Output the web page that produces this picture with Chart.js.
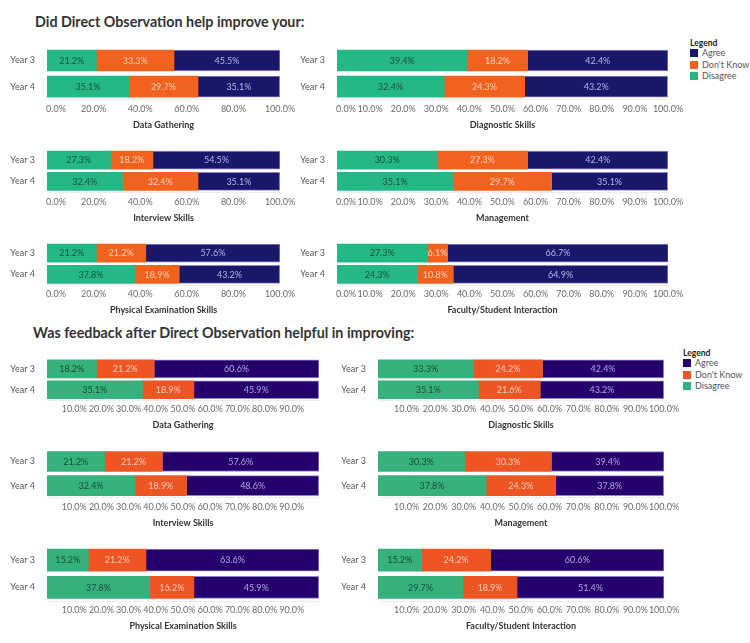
<!DOCTYPE html>
<html>
<head>
<meta charset="utf-8">
<script src="https://cdn.jsdelivr.net/npm/chart.js@4.4.1/dist/chart.umd.min.js"></script>
<style>
  body { margin: 0; background: #fff; }
  #page { position: relative; width: 750px; height: 643px; overflow: hidden; font-family: Lato, sans-serif; }
  #page canvas { position: absolute; }
  .title { position: absolute; font-size: 14.3px; font-weight: bold; color: #333; white-space: nowrap; line-height: 20px; }
  .legend { position: absolute; font-size: 9px; color: #555; line-height: 11.5px; white-space: nowrap; }
  .legend b { display: block; color: #222; font-size: 8.5px; line-height: 8px; }
  .legend span { display: inline-block; width: 8px; height: 8px; margin-right: 4px; vertical-align: -1px; }
</style>
</head>
<body>
<div id="page">
  <div class="title" style="left:35px; top:12px;">Did Direct Observation help improve your:</div>
  <div class="title" style="left:33px; top:323px;">Was feedback after Direct Observation helpful in improving:</div>
  <div class="legend" id="legendTop" style="left:690px; top:39px;"></div>
  <div class="legend" id="legendBottom" style="left:683px; top:349px;"></div>
</div>
<script>
const years = ['Year 3', 'Year 4'];
const responses = ['Disagree', "Don't Know", 'Agree'];
const legendOrder = ['Agree', "Don't Know", 'Disagree'];
const skills = ['Data Gathering', 'Diagnostic Skills', 'Interview Skills', 'Management', 'Physical Examination Skills', 'Faculty/Student Interaction'];

// "Did Direct Observation help improve your:" - [Year 3, Year 4] per skill
const helpDisagree = [[21.2, 35.1], [39.4, 32.4], [27.3, 32.4], [30.3, 35.1], [21.2, 37.8], [27.3, 24.3]];
const helpDontKnow = [[33.3, 29.7], [18.2, 24.3], [18.2, 32.4], [27.3, 29.7], [21.2, 18.9], [6.1, 10.8]];
const helpAgree = [[45.5, 35.1], [42.4, 43.2], [54.5, 35.1], [42.4, 35.1], [57.6, 43.2], [66.7, 64.9]];

// "Was feedback after Direct Observation helpful in improving:"
const fbDisagree = [[18.2, 35.1], [33.3, 35.1], [21.2, 32.4], [30.3, 37.8], [15.2, 37.8], [15.2, 29.7]];
const fbDontKnow = [[21.2, 18.9], [24.2, 21.6], [21.2, 18.9], [30.3, 24.3], [21.2, 16.2], [24.2, 18.9]];
const fbAgree = [[60.6, 45.9], [42.4, 43.2], [57.6, 48.6], [39.4, 37.8], [63.6, 45.9], [60.6, 51.4]];

// tick labels, left / right column
const helpTicksLeft = [0, 20, 40, 60, 80, 100];
const helpTicksRight = [0, 10, 20, 30, 40, 50, 60, 70, 80, 90, 100];
const fbTicksLeft = [10, 20, 30, 40, 50, 60, 70, 80, 90];
const fbTicksRight = [10, 20, 30, 40, 50, 60, 70, 80, 90, 100];

const FONT = 'Lato';
const SMALL = 9;

// layout: columns [bar start, bar end], rows [year3 centre, year4 centre, bar thickness, tick y, title y]
const sections = [
  {
    data: [helpDisagree, helpDontKnow, helpAgree],
    ticks: [helpTicksLeft, helpTicksRight],
    colors: ['#23b884', '#f2621f', '#18176a'],
    textColors: ['#1c4f3b', '#fcd2bd', '#b8b6e4'],
    cols: [[47, 280], [337, 668]],
    rows: [[57, 85.5, 21, 109, 124], [156, 180, 18, 202, 217], [249, 273, 18, 294, 309]],
    shiftZero: true,
    legend: 'legendTop'
  },
  {
    data: [fbDisagree, fbDontKnow, fbAgree],
    ticks: [fbTicksLeft, fbTicksRight],
    colors: ['#35b27c', '#ee5525', '#25006d'],
    textColors: ['#1b4a35', '#fbcdb6', '#b3a9dc'],
    cols: [[47, 319], [378, 664]],
    rows: [[365, 388.5, 18, 409, 424], [458, 484.5, 20, 507, 522], [556, 586, 22, 610, 625]],
    shiftZero: false,
    legend: 'legendBottom'
  }
];

// write the value inside every segment
const valueLabels = {
  id: 'valueLabels',
  afterDatasetsDraw(chart) {
    const ctx = chart.ctx;
    chart.data.datasets.forEach((ds, i) => {
      chart.getDatasetMeta(i).data.forEach((bar, j) => {
        const p = bar.getProps(['x', 'base', 'y'], true);
        ctx.save();
        ctx.fillStyle = ds.labelColor;
        ctx.font = SMALL + 'px ' + FONT;
        ctx.textAlign = 'center';
        ctx.textBaseline = 'middle';
        ctx.fillText(ds.data[j].toFixed(1) + '%', (p.x + p.base) / 2, p.y + 0.5);
        ctx.restore();
      });
    });
  }
};

const page = document.getElementById('page');
const Y_AXIS_W = 47;
const RIGHT_PAD = 22;

sections.forEach(sec => {
  skills.forEach((skill, i) => {
    const [x0, x1] = sec.cols[i % 2];
    const [c3, c4, th, tickY, titleY] = sec.rows[Math.floor(i / 2)];
    const half = (c4 - c3) / 2;
    const chartTop = c3 - half;
    const chartBottom = c4 + half;
    const canvasTop = Math.floor(chartTop - 4);
    const canvasBottom = Math.ceil(titleY + 6);
    const canvasLeft = x0 - Y_AXIS_W;
    const xHeight = canvasBottom - chartBottom;
    const tickVals = sec.ticks[i % 2];

    const cv = document.createElement('canvas');
    cv.width = x1 + RIGHT_PAD - canvasLeft;
    cv.height = canvasBottom - canvasTop;
    cv.style.left = canvasLeft + 'px';
    cv.style.top = canvasTop + 'px';
    page.appendChild(cv);

    new Chart(cv, {
      type: 'bar',
      data: {
        labels: years,
        datasets: responses.map((r, k) => ({
          label: r,
          data: sec.data[k][i],
          backgroundColor: sec.colors[k],
          labelColor: sec.textColors[k],
          barThickness: th,
          borderWidth: k === 2 ? { top: 1, right: 1, bottom: 1, left: 0 } : 0,
          borderColor: '#8e88c9',
          borderSkipped: false
        }))
      },
      options: {
        indexAxis: 'y',
        responsive: false,
        animation: false,
        events: [],
        layout: { padding: { top: chartTop - canvasTop, right: RIGHT_PAD, left: 0, bottom: 0 } },
        plugins: { legend: { display: false }, tooltip: { enabled: false } },
        scales: {
          x: {
            stacked: true,
            min: 0,
            max: 100,
            grid: { display: false, drawTicks: false },
            border: { color: '#ededed' },
            afterBuildTicks: s => { s.ticks = tickVals.map(v => ({ value: v })); },
            afterFit: s => { s.height = xHeight; },
            ticks: {
              autoSkip: false,
              maxRotation: 0,
              padding: tickY - chartBottom - 5.4,
              color: '#6b6b6b',
              font: { family: FONT, size: SMALL },
              callback: v => (v === 0 && sec.shiftZero ? '\u2002\u2002\u2002\u2002' : '') + Number(v).toFixed(1) + '%'
            },
            title: {
              display: true,
              text: skill,
              color: '#333',
              padding: 0,
              font: { family: FONT, size: 9, weight: 'bold', lineHeight: 1.2 }
            }
          },
          y: {
            stacked: true,
            grid: { display: false },
            border: { display: false },
            afterFit: s => { s.width = Y_AXIS_W; },
            ticks: { padding: 4, color: '#555', font: { family: FONT, size: SMALL } }
          }
        }
      },
      plugins: [valueLabels]
    });
  });

  const lg = document.getElementById(sec.legend);
  let html = '<b>Legend</b>';
  legendOrder.forEach(name => {
    const k = responses.indexOf(name);
    html += '<div><span style="background:' + sec.colors[k] + '"></span>' + name + '</div>';
  });
  lg.innerHTML = html;
});
</script>
</body>
</html>
